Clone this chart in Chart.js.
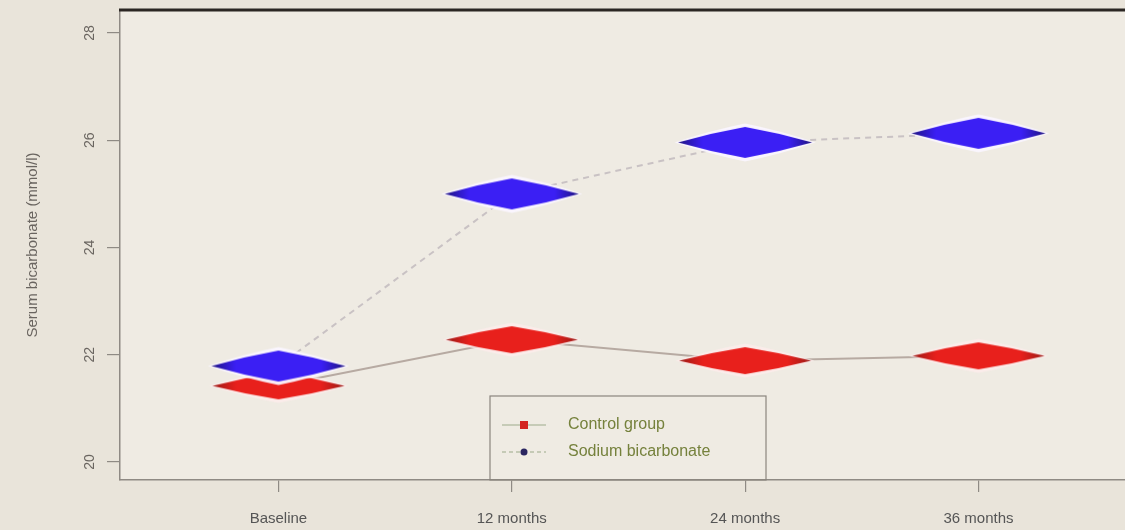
<!DOCTYPE html>
<html>
<head>
<meta charset="utf-8">
<script src="https://cdn.jsdelivr.net/npm/chart.js@4/dist/chart.umd.min.js"></script>
<style>
  html, body { margin: 0; padding: 0; background: #e9e4da; overflow: hidden; }
  #wrap { width: 1125px; height: 530px; overflow: hidden; }
</style>
</head>
<body>
<div id="wrap"><canvas id="chart" width="1131" height="530"></canvas></div>
<script>
const timepoints = ['Baseline', '12 months', '24 months', '36 months'];
const controlValues = [21.42, 22.28, 21.89, 21.98];
const bicarbValues = [21.79, 25.0, 25.96, 26.13];
const yTicks = [20, 22, 24, 26, 28];
const seriesNames = ['Control group', 'Sodium bicarbonate'];

// flat, slightly bulging diamond markers like the R plot
function diamond(w, h, fill, edge, halo) {
  const c = document.createElement('canvas');
  c.width = w + 10; c.height = h + 10;
  const g = c.getContext('2d');
  const cx = c.width / 2, cy = c.height / 2;
  const path = (dw, dh) => {
    const b = 0.06;
    g.beginPath();
    g.moveTo(cx - dw / 2, cy);
    g.quadraticCurveTo(cx - dw / 4, cy - dh / 4 - dh * b, cx, cy - dh / 2);
    g.quadraticCurveTo(cx + dw / 4, cy - dh / 4 - dh * b, cx + dw / 2, cy);
    g.quadraticCurveTo(cx + dw / 4, cy + dh / 4 + dh * b, cx, cy + dh / 2);
    g.quadraticCurveTo(cx - dw / 4, cy + dh / 4 + dh * b, cx - dw / 2, cy);
    g.closePath();
  };
  if (halo) { path(w + 7, h + 7); g.fillStyle = halo; g.fill(); }
  path(w, h);
  const grad = g.createLinearGradient(cx - w / 2, 0, cx + w / 2, 0);
  grad.addColorStop(0, edge);
  grad.addColorStop(0.18, fill);
  grad.addColorStop(0.82, fill);
  grad.addColorStop(1, edge);
  g.fillStyle = grad; g.fill();
  return c;
}
const redDiamond = diamond(132, 27, '#e8201c', '#9a1a16', 'rgba(255,236,236,0.75)');
const blueDiamond = diamond(134, 31, '#3b1ff4', '#1f1480', 'rgba(250,246,255,0.95)');

const toPoints = vals => vals.map((v, i) => ({ x: i, y: v }));

const decor = {
  id: 'decor',
  beforeDraw(chart) {
    const { ctx, chartArea: a } = chart;
    ctx.save();
    ctx.fillStyle = '#efebe3';
    ctx.fillRect(a.left, a.top, a.right - a.left, a.bottom - a.top);
    ctx.restore();
  },
  afterDraw(chart) {
    const { ctx, chartArea: a, scales } = chart;
    ctx.save();
    // thick top frame line
    ctx.strokeStyle = '#2b2623';
    ctx.lineWidth = 3;
    ctx.beginPath(); ctx.moveTo(a.left - 1, a.top); ctx.lineTo(a.right, a.top); ctx.stroke();

    // rotated y tick labels
    ctx.fillStyle = '#6a6560';
    ctx.font = '14px "Liberation Sans", Arial, sans-serif';
    ctx.textAlign = 'center';
    ctx.textBaseline = 'middle';
    yTicks.forEach(v => {
      const y = scales.y.getPixelForValue(v);
      ctx.save();
      ctx.translate(90, y);
      ctx.rotate(-Math.PI / 2);
      ctx.fillText(String(v), 0, 0);
      ctx.restore();
    });

    // legend box
    const lx = 490, ly = 396, lw = 276, lh = 84;
    ctx.strokeStyle = '#8a857e';
    ctx.lineWidth = 1.2;
    ctx.strokeRect(lx, ly, lw, lh);
    const rows = [
      { y: 425, dash: [], color: '#d32420', square: true },
      { y: 452, dash: [4, 3], color: '#2a2560', square: false }
    ];
    rows.forEach((r, i) => {
      ctx.strokeStyle = '#b8c0a8';
      ctx.lineWidth = 1.5;
      ctx.setLineDash(r.dash);
      ctx.beginPath(); ctx.moveTo(lx + 12, r.y); ctx.lineTo(lx + 56, r.y); ctx.stroke();
      ctx.setLineDash([]);
      ctx.fillStyle = r.color;
      if (r.square) ctx.fillRect(lx + 30, r.y - 4, 8, 8);
      else { ctx.beginPath(); ctx.arc(lx + 34, r.y, 3.5, 0, Math.PI * 2); ctx.fill(); }
      ctx.fillStyle = '#75813c';
      ctx.font = '16px "Liberation Sans", Arial, sans-serif';
      ctx.textAlign = 'left';
      ctx.fillText(seriesNames[i], lx + 78, r.y);
    });
    ctx.restore();
  }
};

new Chart(document.getElementById('chart'), {
  type: 'line',
  data: {
    datasets: [
      {
        label: seriesNames[1],
        data: toPoints(bicarbValues),
        borderColor: '#c9c2c4',
        borderWidth: 2,
        borderDash: [6, 5],
        pointStyle: blueDiamond,
        tension: 0,
        clip: false
      },
      {
        label: seriesNames[0],
        data: toPoints(controlValues),
        borderColor: '#b7aaa2',
        borderWidth: 2,
        pointStyle: redDiamond,
        tension: 0,
        clip: false
      }
    ]
  },
  options: {
    responsive: false,
    animation: false,
    layout: { padding: { top: 10, left: 0, right: 0, bottom: 0 } },
    plugins: { legend: { display: false }, tooltip: { enabled: false } },
    scales: {
      x: {
        type: 'linear',
        min: -0.679,
        max: 3.628,
        afterBuildTicks: s => { s.ticks = timepoints.map((t, i) => ({ value: i })); },
        afterFit: s => { s.height = 50; },
        ticks: {
          callback: v => timepoints[v],
          color: '#555',
          font: { size: 15, family: '"Liberation Sans", Arial, sans-serif' },
          padding: 18,
          maxRotation: 0
        },
        grid: { drawOnChartArea: false, tickLength: 12, color: '#8f8a84', lineWidth: 1.2 },
        border: { display: true, color: '#8f8a84', width: 1.5 }
      },
      y: {
        min: 19.664,
        max: 28.43,
        afterBuildTicks: s => { s.ticks = yTicks.map(v => ({ value: v })); },
        afterFit: s => { s.width = 120; },
        ticks: { display: false },
        title: {
          display: true,
          text: 'Serum bicarbonate (mmol/l)',
          color: '#6a6560',
          font: { size: 15, family: '"Liberation Sans", Arial, sans-serif' },
          padding: { top: 24 }
        },
        grid: { drawOnChartArea: false, tickLength: 13, color: '#8f8a84', lineWidth: 1.2 },
        border: { display: true, color: '#8f8a84', width: 1.5 }
      }
    }
  },
  plugins: [decor]
});
</script>
</body>
</html>
